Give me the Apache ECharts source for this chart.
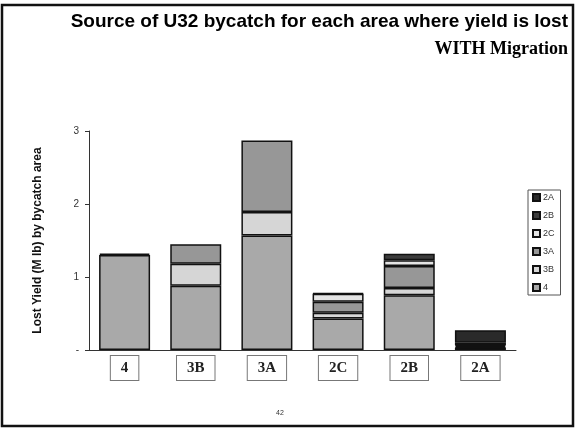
<!DOCTYPE html>
<html>
<head>
<meta charset="utf-8">
<script src="https://cdn.jsdelivr.net/npm/echarts@6/dist/echarts.min.js"></script>
<style>
  html, body { margin: 0; padding: 0; background: #fff; }
  #chart { width: 577px; height: 433px; }
</style>
</head>
<body>
<div id="chart"></div>
<script>
// areas where yield is lost (x categories)
const categories = ['4', '3B', '3A', '2C', '2B', '2A'];
// lost yield (M lb) by bycatch area, stacked bottom to top
const s4  = [1.30, 0.88, 1.57, 0.43, 0.75, 0.03];
const s3B = [0,    0.30, 0.32, 0.08, 0.10, 0.01];
const s3A = [0.02, 0.27, 0.98, 0.15, 0.30, 0.02];
const s2C = [0,    0,    0,    0.11, 0.08, 0.01];
const s2B = [0,    0,    0,    0.01, 0.09, 0.03];
const s2A = [0,    0,    0,    0,    0,    0.17];
const legendOrder = ['2A', '2B', '2C', '3A', '3B', '4'];

const stacks = [
  { name: '4',  data: s4,  color: '#a9a9a9' },
  { name: '3B', data: s3B, color: '#d6d6d6' },
  { name: '3A', data: s3A, color: '#979797' },
  { name: '2C', data: s2C, color: '#e4e4e4' },
  { name: '2B', data: s2B, color: '#3c3c3c' },
  { name: '2A', data: s2A, color: '#2a2a2a' }
];

const chart = echarts.init(document.getElementById('chart'));

chart.setOption({
  animation: false,
  title: [
    {
      text: 'Source of U32 bycatch for each area where yield is lost',
      right: 4, top: 7,
      textStyle: { fontFamily: 'Liberation Sans', fontWeight: 'bold', fontSize: 19, color: '#000' }
    },
    {
      text: 'WITH Migration',
      right: 4, top: 35,
      textStyle: { fontFamily: 'Liberation Serif', fontWeight: 'bold', fontSize: 18, color: '#000' }
    }
  ],
  legend: {
    data: legendOrder,
    orient: 'vertical',
    left: 528, top: 190,
    padding: [3, 6, 3, 4],
    borderColor: '#555', borderWidth: 1,
    icon: 'rect',
    itemWidth: 7, itemHeight: 7, itemGap: 9,
    textStyle: { fontFamily: 'Liberation Sans', fontSize: 9, color: '#333', padding: [0, 0, 0, -2] }
  },
  grid: { left: 89, right: 61, top: 131, bottom: 83 },
  xAxis: {
    type: 'category',
    data: categories,
    axisLine: { lineStyle: { color: '#333', width: 1 } },
    axisTick: { length: 4, lineStyle: { color: '#333' } },
    axisLabel: {
      margin: 6,
      fontFamily: 'Liberation Serif', fontWeight: 'bold', fontSize: 15, color: '#222',
      borderColor: '#777', borderWidth: 1,
      padding: [5, 10, 4, 10], backgroundColor: '#fff'
    }
  },
  yAxis: {
    type: 'value',
    min: 0, max: 3, interval: 1,
    name: 'Lost Yield (M lb) by bycatch area',
    nameLocation: 'middle', nameGap: 45,
    nameTextStyle: { fontFamily: 'Liberation Sans', fontWeight: 'bold', fontSize: 12, color: '#111' },
    axisLine: { show: true, lineStyle: { color: '#333', width: 1 } },
    axisTick: { show: true, length: 4, lineStyle: { color: '#333' } },
    splitLine: { show: false },
    axisLabel: {
      margin: 10,
      fontFamily: 'Liberation Sans', fontSize: 10, color: '#333',
      formatter: v => (v === 0 ? '-' : String(v))
    }
  },
  series: stacks.map(s => ({
    name: s.name,
    type: 'bar',
    stack: 'total',
    barWidth: 51,
    data: s.data.map(v => (v === 0 ? '-' : v)),
    itemStyle: { color: s.color, borderColor: '#111', borderWidth: 1.5 }
  })),
  graphic: [
    {
      type: 'rect',
      shape: { x: 2, y: 5, width: 571, height: 421 },
      style: { fill: 'none', stroke: '#111', lineWidth: 2.5 },
      silent: true
    },
    {
      type: 'text',
      left: 276, top: 410,
      style: { text: '42', font: '7px Liberation Sans', fill: '#333' }
    }
  ]
});
</script>
</body>
</html>
